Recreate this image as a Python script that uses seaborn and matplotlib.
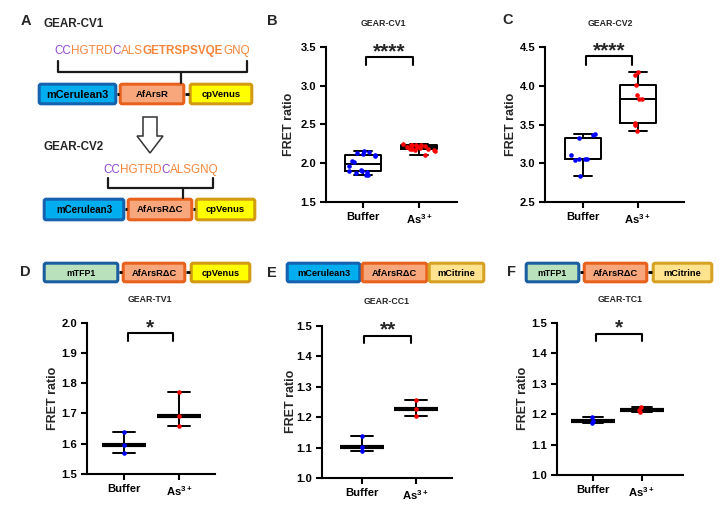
import numpy as np
import pandas as pd
import matplotlib
matplotlib.use('Agg')
import matplotlib.pyplot as plt
import seaborn as sns
from matplotlib.patches import FancyBboxPatch, Polygon

sns.set_theme(style='ticks')
plt.rcParams['font.family'] = ['Liberation Sans', 'DejaVu Sans']
plt.rcParams['font.weight'] = 'bold'
plt.rcParams['mathtext.fontset'] = 'custom'
plt.rcParams['mathtext.rm'] = 'Liberation Sans'
plt.rcParams['mathtext.bf'] = 'Liberation Sans:bold'
plt.rcParams['mathtext.default'] = 'regular'

# ---------------------------------------------------------------------------
# data
# ---------------------------------------------------------------------------
groups = ['Buffer', 'As3+']
tick_labels = ['Buffer', r'As$^{3+}$']

cv1_buffer = [2.16, 2.15, 2.13, 2.12, 2.10, 2.09, 2.03, 2.02, 1.97, 1.91, 1.90, 1.90, 1.89, 1.87, 1.85, 1.85]
cv1_as = [2.245, 2.24, 2.24, 2.235, 2.23, 2.22, 2.21, 2.21, 2.20, 2.19, 2.18, 2.18, 2.17, 2.17, 2.16, 2.11]
cv2_buffer = [3.38, 3.37, 3.32, 3.10, 3.06, 3.06, 3.05, 3.04, 2.83]
cv2_as = [4.18, 4.14, 4.01, 3.88, 3.83, 3.83, 3.52, 3.49, 3.41]
tv1_buffer = [1.638, 1.595, 1.571]
tv1_as = [1.770, 1.692, 1.660]
cc1_buffer = [1.137, 1.103, 1.087]
cc1_as = [1.256, 1.228, 1.204]
tc1_buffer = [1.190, 1.178, 1.172]
tc1_as = [1.222, 1.214, 1.206]

# significance brackets: x1, x2, top, leg end, stars, star y
sig_cv1 = (0.05, 0.90, 3.37, 3.27, '****', 3.435)
sig_cv2 = (0.05, 0.89, 4.38, 4.27, '****', 4.45)
sig_tv1 = (0.07, 0.89, 1.965, 1.941, '*', 1.983)
sig_cc1 = (0.04, 0.91, 1.467, 1.442, '**', 1.485)
sig_tc1 = (0.06, 1.00, 1.463, 1.440, '*', 1.483)

BLUE = '#0000FF'
RED = '#FF0000'

fig = plt.figure(figsize=(7.27, 5.11), dpi=100)

# overlay in pixel coordinates for the schematic part
ov = fig.add_axes([0, 0, 1, 1])
ov.set_xlim(0, 727)
ov.set_ylim(511, 0)
ov.axis('off')


def style_axis(ax, ylim, yticks, xlim, ylab_px):
    ax.set_ylim(*ylim)
    ax.set_yticks(yticks)
    ax.set_xlim(*xlim)
    ax.set_xticks([0, 1])
    ax.set_xticklabels(tick_labels)
    ax.set_xlabel('')
    ax.set_ylabel('FRET ratio', fontsize=9, fontweight='bold')
    w = ax.get_position().width * 727
    ax.yaxis.set_label_coords(-ylab_px / w, 0.5)
    sns.despine(ax=ax)
    for s in ['left', 'bottom']:
        ax.spines[s].set_linewidth(1.5)
        ax.spines[s].set_color('black')
    ax.tick_params(direction='out', length=4, width=1.5, labelsize=8.1, pad=3, colors='black')
    for lab in ax.get_xticklabels() + ax.get_yticklabels():
        lab.set_fontweight('bold')


def bracket(ax, sig):
    x1, x2, top, leg, stars, sy = sig
    ax.plot([x1, x1, x2, x2], [leg, top, top, leg], color='black', lw=1.5, clip_on=False)
    ax.text((x1 + x2) / 2, sy, stars, ha='center', va='center', fontsize=15,
            fontweight='bold', clip_on=False)


def box_panel(rect, buf, ars, jitters, ylim, yticks, xlim, sig, ylab_px):
    ax = fig.add_axes(rect)
    df = pd.DataFrame({'group': ['Buffer'] * len(buf) + ['As3+'] * len(ars),
                       'ratio': buf + ars})
    sns.boxplot(data=df, x='group', y='ratio', order=groups, whis=(0, 100), width=0.65,
                fill=False, color='black', linecolor='black', linewidth=1.4,
                showfliers=False, ax=ax)
    for g, vals, c, j in [('Buffer', buf, BLUE, jitters[0]), ('As3+', ars, RED, jitters[1])]:
        sns.stripplot(x=[g] * len(vals), y=vals, order=groups, color=c, jitter=j,
                      size=3.3, linewidth=0, ax=ax, zorder=3)
    style_axis(ax, ylim, yticks, xlim, ylab_px)
    bracket(ax, sig)
    return ax


def dot_panel(rect, buf, ars, jitter, ylim, yticks, xlim, sig, ylab_px):
    ax = fig.add_axes(rect)
    df = pd.DataFrame({'group': ['Buffer'] * len(buf) + ['As3+'] * len(ars),
                       'ratio': buf + ars})
    sns.pointplot(data=df, x='group', y='ratio', order=groups, estimator='median',
                  errorbar=('pi', 100), capsize=0.4, color='black', linestyle='none',
                  marker='_', markersize=32, markeredgewidth=3,
                  err_kws={'linewidth': 1.4}, ax=ax)
    for g, vals, c in [('Buffer', buf, BLUE), ('As3+', ars, RED)]:
        sns.stripplot(x=[g] * len(vals), y=vals, order=groups, color=c, jitter=jitter,
                      size=3.3, linewidth=0, ax=ax, zorder=4)
    style_axis(ax, ylim, yticks, xlim, ylab_px)
    bracket(ax, sig)
    return ax


np.random.seed(3)
box_panel([326 / 727, 1 - 202 / 511, 131 / 727, 155 / 511], cv1_buffer, cv1_as, (0.27, 0.3),
          (1.5, 3.5), [1.5, 2.0, 2.5, 3.0, 3.5], (-0.66, 1.68), sig_cv1, 30.5)
box_panel([545 / 727, 1 - 202 / 511, 139 / 727, 155 / 511], cv2_buffer, cv2_as, (0.27, 0.1),
          (2.5, 4.5), [2.5, 3.0, 3.5, 4.0, 4.5], (-0.69, 1.84), sig_cv2, 28.5)
dot_panel([87 / 727, 1 - 474 / 511, 128 / 727, 151.3 / 511], tv1_buffer, tv1_as, False,
          (1.5, 2.0), [1.5, 1.6, 1.7, 1.8, 1.9, 2.0], (-0.67, 1.65), sig_tv1, 27.5)
dot_panel([322 / 727, 1 - 478 / 511, 130 / 727, 152.3 / 511], cc1_buffer, cc1_as, False,
          (1.0, 1.5), [1.0, 1.1, 1.2, 1.3, 1.4, 1.5], (-0.74, 1.67), sig_cc1, 25.5)
dot_panel([557 / 727, 1 - 475 / 511, 126 / 727, 152.3 / 511], tc1_buffer, tc1_as, 0.06,
          (1.0, 1.5), [1.0, 1.1, 1.2, 1.3, 1.4, 1.5], (-0.73, 1.84), sig_tc1, 28.5)

# ---------------------------------------------------------------------------
# schematic / labels
# ---------------------------------------------------------------------------
CER = ('#00AEEF', '#1563AE')
ARS = ('#F8A67C', '#E8621E')
VEN = ('#FFFF00', '#D29B12')
TFP = ('#B9E2BC', '#1B5EA0')
CIT = ('#FFE38E', '#D7A224')
PURPLE = '#9148D0'
ORANGE = '#F5863C'


def construct(y0, y1, boxes):
    yc = (y0 + y1) / 2
    for i, (x0, x1, name, col, size) in enumerate(boxes):
        ov.add_patch(FancyBboxPatch((x0 + 1.2, y0 + 1.2), x1 - x0 - 2.4, y1 - y0 - 2.4,
                                    boxstyle='round,pad=0,rounding_size=2',
                                    fc=col[0], ec=col[1], lw=2.2))
        ov.text((x0 + x1) / 2, yc + 0.5, name, ha='center', va='center',
                fontsize=size, fontweight='bold', color='black')
        if i > 0:
            px = boxes[i - 1][1]
            if x0 - px > 1:
                ov.plot([px, x0], [yc, yc], color='black', lw=2, solid_capstyle='butt')


renderer = fig.canvas.get_renderer()


def colored_seq(x, y, parts, size):
    for s, c, w in parts:
        t = ov.text(x, y, s, color=c, fontsize=size, fontweight=w, ha='left', va='center')
        x += t.get_window_extent(renderer=renderer).width


def seq_bracket(xl, xr, y0, y1, xs, y2):
    ov.plot([xl, xl, xr, xr], [y0, y1, y1, y0], color='#1a1a1a', lw=1.6)
    ov.plot([xs, xs], [y1, y2], color='#1a1a1a', lw=1.6)


# panel letters
for lx, ly, s in [(26, 21, 'A'), (272, 21, 'B'), (508, 20, 'C'),
                  (25, 272, 'D'), (272, 273, 'E'), (512, 272, 'F')]:
    ov.text(lx, ly, s, ha='center', va='center', fontsize=10.5, fontweight='bold')

# panel titles
for tx, ty, s in [(383, 23, 'GEAR-CV1'), (610, 23, 'GEAR-CV2'), (150, 300, 'GEAR-TV1'),
                  (387, 302, 'GEAR-CC1'), (620, 299, 'GEAR-TC1')]:
    ov.text(tx, ty, s, ha='center', va='center', fontsize=6.3, fontweight='bold')

ov.text(43, 24, 'GEAR-CV1', ha='left', va='center', fontsize=8.4, fontweight='bold')
ov.text(43, 147, 'GEAR-CV2', ha='left', va='center', fontsize=8.4, fontweight='bold')

colored_seq(54, 51, [('CC', PURPLE, 'normal'), ('HGTRD', ORANGE, 'normal'),
                     ('C', PURPLE, 'normal'), ('ALS', ORANGE, 'normal'),
                     ('GETRSPSVQE', ORANGE, 'bold'), ('GNQ', ORANGE, 'normal')], 8.4)
seq_bracket(58, 247, 61, 72, 181, 83)
construct(83, 105, [(38, 117, 'mCerulean3', CER, 7.8), (119, 185, 'AfArsR', ARS, 6.8),
                    (189, 253, 'cpVenus', VEN, 6.8)])

ov.add_patch(Polygon([(143, 117), (157, 117), (157, 136), (163, 136), (150, 153),
                      (137, 136), (143, 136)], closed=True, fc='white', ec='#333333', lw=1.1))

colored_seq(103, 170, [('CC', PURPLE, 'normal'), ('HGTRD', ORANGE, 'normal'),
                       ('C', PURPLE, 'normal'), ('ALSGNQ', ORANGE, 'normal')], 8.4)
seq_bracket(108, 213, 178, 188, 183, 198)
construct(198, 221, [(43, 125, 'mCerulean3', CER, 7.0), (127, 193, 'AfArsR\u0394C', ARS, 6.8),
                     (195, 256, 'cpVenus', VEN, 6.8)])

construct(262, 283, [(43, 119, 'mTFP1', TFP, 6.3), (122, 186, 'AfArsR\u0394C', ARS, 6.7),
                     (190, 251, 'cpVenus', VEN, 6.7)])
construct(262, 283, [(286, 361, 'mCerulean3', CER, 6.7), (361, 428, 'AfArsR\u0394C', ARS, 6.7),
                     (428, 485, 'mCitrine', CIT, 6.7)])
construct(262, 283, [(525, 580, 'mTFP1', TFP, 6.3), (583, 648, 'AfArsR\u0394C', ARS, 6.7),
                     (652, 713, 'mCitrine', CIT, 6.7)])

fig.savefig('out.png', dpi=100)
